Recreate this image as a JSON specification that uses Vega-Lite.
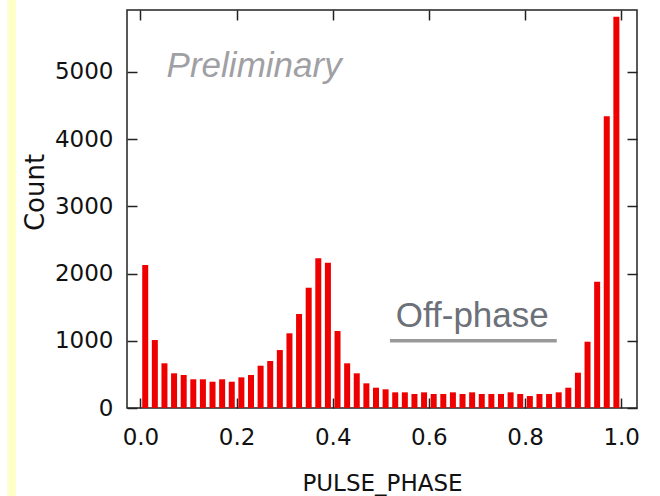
{
  "$schema": "https://vega.github.io/schema/vega-lite/v6.json",
  "width": 510,
  "height": 398,
  "autosize": {"type": "none"},
  "padding": {"left": 127, "top": 10, "right": 23, "bottom": 88},
  "background": "white",
  "config": {
    "view": {"stroke": "#222222", "strokeWidth": 1.5},
    "axis": {
      "domain": false,
      "grid": false,
      "tickColor": "#222222",
      "tickWidth": 1.5,
      "labelFont": "DejaVu Sans",
      "labelColor": "#111111",
      "titleFont": "DejaVu Sans",
      "titleColor": "#111111",
      "titleFontWeight": "normal"
    }
  },
  "datasets": {
    "hist": [
      {"phase": 0.01, "count": 2126},
      {"phase": 0.03, "count": 1011},
      {"phase": 0.05, "count": 665},
      {"phase": 0.07, "count": 516},
      {"phase": 0.09, "count": 491},
      {"phase": 0.11, "count": 427},
      {"phase": 0.13, "count": 427},
      {"phase": 0.15, "count": 391},
      {"phase": 0.17, "count": 427},
      {"phase": 0.19, "count": 391},
      {"phase": 0.21, "count": 456},
      {"phase": 0.23, "count": 491},
      {"phase": 0.25, "count": 629},
      {"phase": 0.27, "count": 699},
      {"phase": 0.29, "count": 862},
      {"phase": 0.31, "count": 1111},
      {"phase": 0.33, "count": 1398},
      {"phase": 0.35, "count": 1789},
      {"phase": 0.37, "count": 2226},
      {"phase": 0.39, "count": 2160},
      {"phase": 0.41, "count": 1145},
      {"phase": 0.43, "count": 665},
      {"phase": 0.45, "count": 516},
      {"phase": 0.47, "count": 367},
      {"phase": 0.49, "count": 302},
      {"phase": 0.51, "count": 278},
      {"phase": 0.53, "count": 233},
      {"phase": 0.55, "count": 233},
      {"phase": 0.57, "count": 208},
      {"phase": 0.59, "count": 233},
      {"phase": 0.61, "count": 208},
      {"phase": 0.63, "count": 208},
      {"phase": 0.65, "count": 233},
      {"phase": 0.67, "count": 208},
      {"phase": 0.69, "count": 233},
      {"phase": 0.71, "count": 208},
      {"phase": 0.73, "count": 208},
      {"phase": 0.75, "count": 208},
      {"phase": 0.77, "count": 233},
      {"phase": 0.79, "count": 208},
      {"phase": 0.81, "count": 178},
      {"phase": 0.83, "count": 208},
      {"phase": 0.85, "count": 208},
      {"phase": 0.87, "count": 233},
      {"phase": 0.89, "count": 302},
      {"phase": 0.91, "count": 525},
      {"phase": 0.93, "count": 986},
      {"phase": 0.95, "count": 1878},
      {"phase": 0.97, "count": 4341},
      {"phase": 0.99, "count": 5818}
    ],
    "one": [{"item": "annotation"}]
  },
  "layer": [
    {
      "data": {"name": "one"},
      "mark": {"type": "rect", "color": "#ffffc8", "clip": false},
      "encoding": {
        "x": {"datum": -0.277, "type": "quantitative", "axis": null},
        "x2": {"datum": -0.2586},
        "y": {"datum": -1310, "type": "quantitative", "axis": null},
        "y2": {"datum": 6070}
      }
    },
    {
      "data": {"name": "hist"},
      "mark": {"type": "bar", "width": 6, "color": "#ee0000"},
      "encoding": {
        "x": {
          "field": "phase",
          "type": "quantitative",
          "scale": {"domain": [-0.0175, 1.0225], "nice": false, "zero": false},
          "axis": {
            "orient": "bottom",
            "values": [0, 0.2, 0.4, 0.6, 0.8, 1.0],
            "format": ".1f",
            "tickSize": -10,
            "labelFontSize": 23,
            "labelPadding": 28,
            "title": "PULSE_PHASE",
            "titleFontSize": 23,
            "titlePadding": 23
          }
        },
        "y": {
          "field": "count",
          "type": "quantitative",
          "scale": {"domain": [0, 5920], "nice": false},
          "axis": {
            "values": [0, 1000, 2000, 3000, 4000, 5000],
            "format": "d",
            "tickSize": -10,
            "labelFontSize": 23,
            "labelPadding": 24,
            "title": "Count",
            "titleFontSize": 26,
            "titleX": -92,
            "titleY": 182,
            "titleBaseline": "middle"
          }
        }
      }
    },
    {
      "data": {"name": "hist"},
      "mark": {"type": "point", "opacity": 0},
      "encoding": {
        "x": {
          "field": "phase",
          "type": "quantitative",
          "axis": {"orient": "top", "values": [0, 0.2, 0.4, 0.6, 0.8, 1.0], "labels": false, "tickSize": -10, "title": null}
        },
        "y": {
          "field": "count",
          "type": "quantitative",
          "axis": {"orient": "right", "values": [0, 1000, 2000, 3000, 4000, 5000], "labels": false, "tickSize": -10, "title": null}
        }
      }
    },
    {
      "data": {"name": "one"},
      "mark": {"type": "rule", "color": "#999999", "strokeWidth": 3.5},
      "encoding": {
        "x": {"datum": 0.519, "type": "quantitative", "axis": null},
        "x2": {"datum": 0.866},
        "y": {"datum": 1000, "type": "quantitative", "axis": null}
      }
    },
    {
      "data": {"name": "one"},
      "mark": {"type": "text", "text": "Off-phase", "align": "left", "baseline": "alphabetic", "font": "Liberation Sans", "fontSize": 35, "color": "#6c7078"},
      "encoding": {
        "x": {"datum": 0.531, "type": "quantitative", "axis": null},
        "y": {"datum": 1209, "type": "quantitative", "axis": null}
      }
    },
    {
      "data": {"name": "one"},
      "mark": {"type": "text", "text": "Preliminary", "align": "left", "baseline": "alphabetic", "font": "Liberation Sans", "fontStyle": "italic", "fontSize": 35, "color": "#a0a0a4"},
      "encoding": {
        "x": {"datum": 0.0545, "type": "quantitative", "axis": null},
        "y": {"datum": 4917, "type": "quantitative", "axis": null}
      }
    }
  ],
  "resolve": {"axis": {"x": "independent", "y": "independent"}}
}
